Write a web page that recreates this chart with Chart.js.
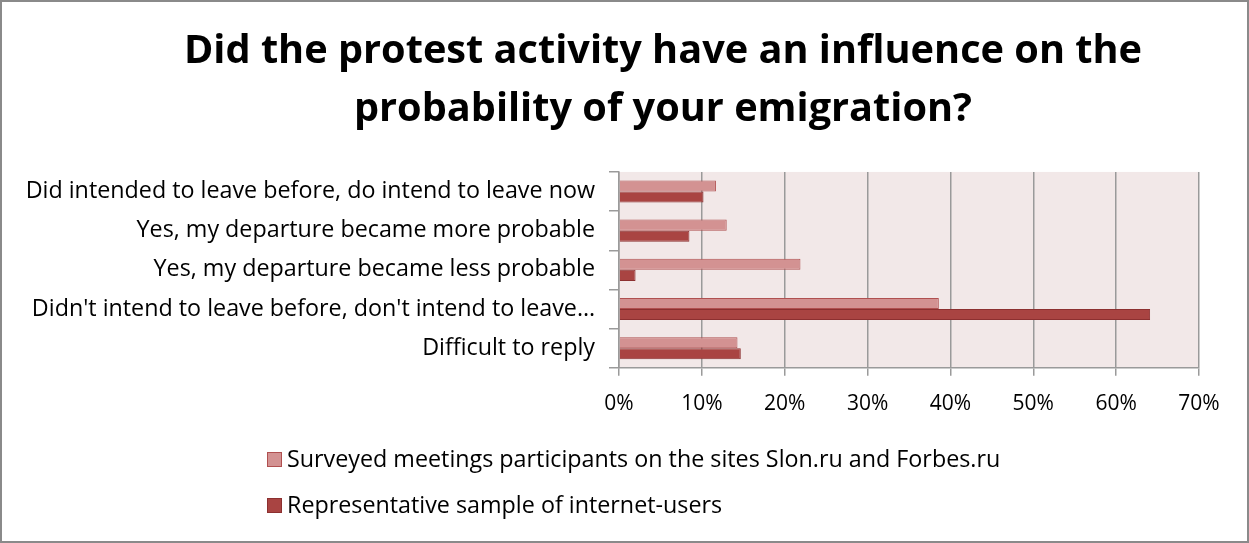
<!DOCTYPE html>
<html>
<head>
<meta charset="utf-8">
<script src="https://cdn.jsdelivr.net/npm/chart.js@4.4.1/dist/chart.umd.min.js"></script>
<style>
  html, body { margin: 0; padding: 0; background: #fff; }
  #wrap { width: 1249px; height: 543px; position: relative; }
</style>
</head>
<body>
<div id="wrap"><canvas id="c" width="1249" height="543"></canvas></div>
<script>
// Survey answers, percentage of respondents
const categories = [
  "Did intended to leave before, do intend to leave now",
  "Yes, my departure became more probable",
  "Yes, my departure became less probable",
  "Didn't intend to leave before, don't intend to leave…",
  "Difficult to reply"
];
const seriesNames = [
  "Surveyed meetings participants on the sites Slon.ru and Forbes.ru",
  "Representative sample of internet-users"
];
const meetingParticipants = [11.7, 13.0, 21.9, 38.6, 14.3];
const internetUsers = [10.2, 8.5, 2.0, 64.1, 14.7];
const xTicks = [0, 10, 20, 30, 40, 50, 60, 70];
const titleLines = [
  "Did the protest activity have an influence on the",
  "probability of your emigration?"
];

const FONT = "'Open Sans', Lato, sans-serif";
const LABEL_SIZE = 23.3;

// Plot-area tint, outer frame, and title centred over the plot block
const backdrop = {
  id: 'backdrop',
  afterLayout(chart) {
    const t = chart.titleBlock;
    if (t) { t.left = 77; t.right = chart.width; }
  },
  beforeDraw(chart) {
    const { ctx, chartArea: a } = chart;
    ctx.save();
    ctx.fillStyle = '#ffffff';
    ctx.fillRect(0, 0, chart.width, chart.height);
    ctx.fillStyle = 'rgb(242,232,232)';
    ctx.fillRect(a.left, a.top, a.right - a.left, a.bottom - a.top);
    ctx.restore();
  },
  afterDraw(chart) {
    const { ctx } = chart;
    ctx.save();
    ctx.strokeStyle = '#8a8a8a';
    ctx.lineWidth = 2;
    ctx.strokeRect(1, 1, chart.width - 2, chart.height - 2);
    ctx.restore();
  }
};

// Legend stacked vertically under the axis
const stackedLegend = {
  id: 'stackedLegend',
  afterDraw(chart) {
    const { ctx } = chart;
    ctx.save();
    ctx.font = LABEL_SIZE + 'px ' + FONT;
    ctx.textBaseline = 'middle';
    ctx.textAlign = 'left';
    const rows = [460, 506];
    chart.data.datasets.forEach((ds, i) => {
      const y = rows[i];
      ctx.fillStyle = ds.backgroundColor;
      ctx.fillRect(267.5, y - 7.5, 14, 14);
      ctx.strokeStyle = ds.borderColor;
      ctx.lineWidth = 1;
      ctx.strokeRect(267.5, y - 7.5, 14, 14);
      ctx.fillStyle = '#000';
      ctx.fillText(ds.label, 287, y);
    });
    ctx.restore();
  }
};

new Chart(document.getElementById('c'), {
  type: 'bar',
  data: {
    labels: categories,
    datasets: [
      {
        label: seriesNames[0],
        data: meetingParticipants,
        backgroundColor: 'rgb(211,146,146)',
        borderColor: 'rgb(176,80,80)',
        borderWidth: 1
      },
      {
        label: seriesNames[1],
        data: internetUsers,
        backgroundColor: 'rgb(169,68,66)',
        borderColor: 'rgb(140,48,48)',
        borderWidth: 1
      }
    ]
  },
  options: {
    indexAxis: 'y',
    responsive: false,
    animation: false,
    devicePixelRatio: 1,
    categoryPercentage: 0.565,
    barPercentage: 1,
    layout: { padding: { left: 0, right: 50, top: 0, bottom: 110 } },
    plugins: {
      legend: { display: false },
      tooltip: { enabled: false },
      title: {
        display: true,
        text: titleLines,
        color: '#000',
        font: { family: FONT, size: 39.7, weight: 'bold', lineHeight: 1.46 },
        padding: { top: 23, bottom: 33 }
      }
    },
    scales: {
      x: {
        min: 0,
        max: 70,
        afterBuildTicks(scale) {
          scale.ticks = xTicks.map(v => ({ value: v }));
        },
        grid: { color: '#9a9a9a', lineWidth: 1.5, tickLength: 8, drawTicks: true },
        border: { color: '#9a9a9a', width: 1.5 },
        ticks: {
          color: '#000',
          padding: 16,
          font: { family: FONT, size: 21 },
          callback: v => v + '%'
        }
      },
      y: {
        afterFit(scale) { scale.width = 619; },
        grid: { drawOnChartArea: false, color: '#9a9a9a', lineWidth: 1.5, tickLength: 10, offset: true },
        border: { color: '#9a9a9a', width: 1.5 },
        ticks: {
          color: '#000',
          padding: 14,
          font: { family: FONT, size: LABEL_SIZE }
        }
      }
    }
  },
  plugins: [backdrop, stackedLegend]
});
</script>
</body>
</html>
